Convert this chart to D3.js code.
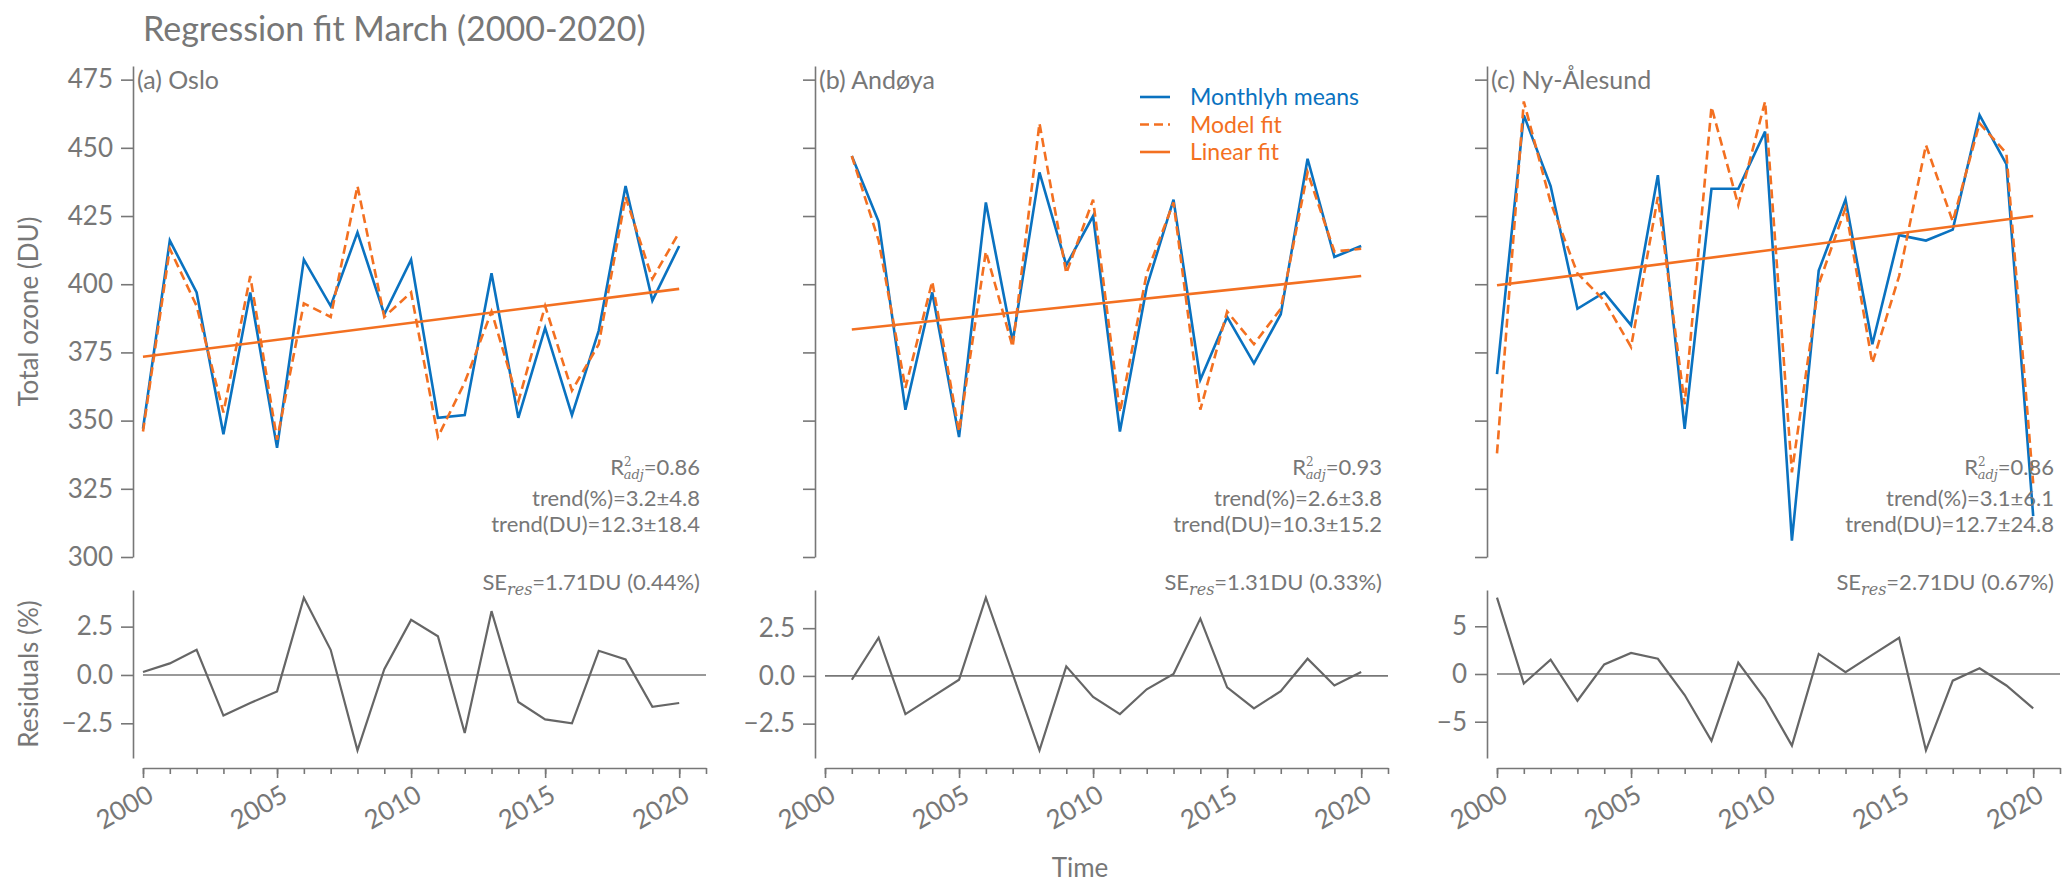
<!DOCTYPE html>
<meta charset="utf-8">
<script src="https://d3js.org/d3.v7.min.js"></script>
<style>
  body { margin: 0; background: #fff; }
  text { font-family: Lato, "Open Sans", sans-serif; }
</style>
<div id="chart"></div>
<script>

// ---- data ----
var yearsFull   = [2000, 2001, 2002, 2003, 2004, 2005, 2006, 2007, 2008, 2009, 2010,
                   2011, 2012, 2013, 2014, 2015, 2016, 2017, 2018, 2019, 2020];
var yearsAndoya = [2001, 2002, 2003, 2004, 2005, 2006, 2007, 2008, 2009, 2010,
                   2011, 2012, 2013, 2014, 2015, 2016, 2017, 2018, 2019, 2020];

var osloObs   = [347, 416, 397, 345, 397, 340, 409, 392, 419, 389, 409, 351, 352, 404, 351, 384, 352, 383, 436, 394, 414];
var osloModel = [346, 413, 392, 353, 403, 343, 393, 388, 436, 388, 397, 344, 364, 390, 357, 392, 361, 378, 432, 402, 419];
var osloLin   = [373.4, 398.3];
var osloRes   = [0.15, 0.6, 1.3, -2.1, -1.45, -0.85, 4.0, 1.3, -3.9, 0.3, 2.85, 2.0, -3.0, 3.3, -1.4, -2.3, -2.5, 1.25, 0.8, -1.65, -1.45];

var andObs   = [447, 423, 354, 397, 344, 430, 379, 441, 407, 425, 346, 399, 431, 365, 388, 371, 389, 446, 410, 414];
var andModel = [447, 416, 362, 401, 346, 412, 377, 459, 404, 431, 353, 404, 430, 354, 390, 378, 391, 441, 412, 413];
var andLin   = [383.4, 403];
var andRes   = [-0.2, 2.0, -2.0, -1.1, -0.2, 4.1, 0.1, -3.9, 0.5, -1.1, -2.0, -0.7, 0.1, 3.0, -0.6, -1.7, -0.8, 0.9, -0.5, 0.2];

var nyObs   = [367, 462, 436, 391, 397, 385, 440, 347, 435, 435, 456, 306, 405, 431, 378, 418, 416, 420, 462, 444, 315];
var nyModel = [338, 467, 430, 404, 394, 377, 432, 356, 465, 429, 467, 331, 400, 428, 371, 403, 451, 423, 459, 448, 327];
var nyLin   = [399.6, 425];
var nyRes   = [8.0, -1.0, 1.5, -2.8, 1.0, 2.2, 1.6, -2.2, -7.0, 1.2, -2.6, -7.5, 2.1, 0.2, 2.0, 3.8, -8.0, -0.7, 0.6, -1.2, -3.6];

var panelNames = ["(a) Oslo", "(b) Andøya", "(c) Ny-Ålesund"];
var r2Labels   = ["0.86", "0.93", "0.86"];
var trendPct   = ["3.2±4.8", "2.6±3.8", "3.1±6.1"];
var trendDU    = ["12.3±18.4", "10.3±15.2", "12.7±24.8"];
var seLabels   = ["1.71DU (0.44%)", "1.31DU (0.33%)", "2.71DU (0.67%)"];

var ozoneTicks = [300, 325, 350, 375, 400, 425, 450, 475];
var resTicks   = [[-2.5, 0, 2.5], [-2.5, 0, 2.5], [-5, 0, 5]];
var yearTicks  = [2000, 2005, 2010, 2015, 2020];
var legendLabels = ["Monthlyh means", "Model fit", "Linear fit"];

// ---- layout ----
var W = 2067, H = 889;
var blue = "#0a72c0", orange = "#f37021", grey = "#777777", resGrey = "#666666";
var spineX = [133, 815, 1487];
var plotW = 563;
var topY = [66, 557];
var resY = [590, 758];
var annSize = 22;

var panels = [
  { years: yearsFull,   obs: osloObs, model: osloModel, lin: osloLin, res: osloRes },
  { years: yearsAndoya, obs: andObs,  model: andModel,  lin: andLin,  res: andRes },
  { years: yearsFull,   obs: nyObs,   model: nyModel,   lin: nyLin,   res: nyRes }
];

var svg = d3.select("#chart").append("svg")
    .attr("width", W).attr("height", H);

svg.append("text")
    .attr("x", 143).attr("y", 41)
    .attr("fill", grey).attr("font-size", 34)
    .text("Regression fit March (2000-2020)");

panels.forEach(function (p, i) {
    var left = spineX[i] + 10;
    var x = d3.scaleLinear().domain([2000, 2021]).range([left, left + plotW]);
    var y = d3.scaleLinear().domain([300, 480]).range([topY[1], topY[0]]);

    var ext = d3.extent(p.res), pad = (ext[1] - ext[0]) * 0.05;
    var yr = d3.scaleLinear().domain([ext[0] - pad, ext[1] + pad]).range([resY[1], resY[0]]);

    // top y axis
    var ay = svg.append("g")
        .attr("transform", "translate(" + spineX[i] + ",0)")
        .call(d3.axisLeft(y).tickValues(ozoneTicks).tickSize(12).tickSizeOuter(0).tickPadding(8)
            .tickFormat(i == 0 ? d3.format("d") : function () { return ""; }));
    styleAxis(ay);

    // residual y axis
    var ar = svg.append("g")
        .attr("transform", "translate(" + spineX[i] + ",0)")
        .call(d3.axisLeft(yr).tickValues(resTicks[i]).tickSize(12).tickSizeOuter(0).tickPadding(8)
            .tickFormat(i == 2 ? d3.format("d") : d3.format(".1f")));
    styleAxis(ar);

    // bottom axis: minor + major ticks
    var bottom = resY[1] + 10;
    var minor = svg.append("g")
        .attr("transform", "translate(0," + bottom + ")")
        .call(d3.axisBottom(x).tickValues(d3.range(2000, 2022)).tickSize(6).tickSizeOuter(0).tickFormat(""));
    styleAxis(minor);
    var major = svg.append("g")
        .attr("transform", "translate(0," + bottom + ")")
        .call(d3.axisBottom(x).tickValues(yearTicks).tickSize(10).tickSizeOuter(0).tickFormat(d3.format("d")));
    styleAxis(major);
    major.select(".domain").remove();
    major.selectAll(".tick text")
        .attr("text-anchor", "end")
        .attr("y", 0).attr("dy", "0.75em")
        .attr("transform", "translate(2,15) rotate(-30)");

    // panel label
    svg.append("text")
        .attr("x", spineX[i] + 4).attr("y", 89)
        .attr("fill", grey).attr("font-size", 25)
        .text(panelNames[i]);

    // lines
    var line = d3.line()
        .x(function (d) { return x(d[0]); })
        .y(function (d) { return y(d[1]); });

    svg.append("path")
        .datum(d3.zip(p.years, p.obs))
        .attr("fill", "none").attr("stroke", blue).attr("stroke-width", 2.6)
        .attr("d", line);
    svg.append("path")
        .datum(d3.zip(p.years, p.model))
        .attr("fill", "none").attr("stroke", orange).attr("stroke-width", 2.6)
        .attr("stroke-dasharray", "9,5")
        .attr("d", line);
    svg.append("path")
        .datum([[p.years[0], p.lin[0]], [p.years[p.years.length - 1], p.lin[1]]])
        .attr("fill", "none").attr("stroke", orange).attr("stroke-width", 2.6)
        .attr("d", line);

    // residuals
    svg.append("line")
        .attr("x1", x(2000)).attr("x2", x(2021))
        .attr("y1", yr(0)).attr("y2", yr(0))
        .attr("stroke", grey).attr("stroke-width", 1.6);
    svg.append("path")
        .datum(d3.zip(p.years, p.res))
        .attr("fill", "none").attr("stroke", resGrey).attr("stroke-width", 2.2)
        .attr("d", d3.line()
            .x(function (d) { return x(d[0]); })
            .y(function (d) { return yr(d[1]); }));

    // annotations
    var tx = left + plotW - 6;
    var r = svg.append("text")
        .attr("x", tx).attr("y", 475)
        .attr("text-anchor", "end").attr("fill", grey).attr("font-size", annSize);
    r.append("tspan").text("R");
    r.append("tspan").attr("dy", -9).attr("font-size", 12).attr("font-family", "DejaVu Serif").text("2");
    r.append("tspan").attr("dx", -8).attr("dy", 13).attr("font-size", 13)
        .attr("font-style", "italic").attr("font-family", "DejaVu Serif").text("adj");
    r.append("tspan").attr("dy", -4).text("=" + r2Labels[i]);

    svg.append("text")
        .attr("x", tx).attr("y", 506)
        .attr("text-anchor", "end").attr("fill", grey).attr("font-size", annSize)
        .text("trend(%)=" + trendPct[i]);
    svg.append("text")
        .attr("x", tx).attr("y", 532)
        .attr("text-anchor", "end").attr("fill", grey).attr("font-size", annSize)
        .text("trend(DU)=" + trendDU[i]);

    var se = svg.append("text")
        .attr("x", tx).attr("y", 590)
        .attr("text-anchor", "end").attr("fill", grey).attr("font-size", annSize);
    se.append("tspan").text("SE");
    se.append("tspan").attr("dy", 5).attr("font-size", 16)
        .attr("font-style", "italic").attr("font-family", "DejaVu Serif").text("res");
    se.append("tspan").attr("dy", -5).text("=" + seLabels[i]);
});

function styleAxis(g) {
    g.selectAll(".domain").attr("stroke", grey).attr("stroke-width", 1.6);
    g.selectAll(".tick line").attr("stroke", grey).attr("stroke-width", 1.6);
    g.selectAll(".tick text").attr("fill", grey).attr("font-size", 26)
        .attr("font-family", "Lato, sans-serif");
}

// legend in panel b
var legendColors = [blue, orange, orange];
var legendDash = [null, "9,5", null];
legendLabels.forEach(function (lab, k) {
    var ly = 97 + k * 27.5;
    svg.append("line")
        .attr("x1", 1140).attr("x2", 1170).attr("y1", ly).attr("y2", ly)
        .attr("stroke", legendColors[k]).attr("stroke-width", 2.6)
        .attr("stroke-dasharray", legendDash[k]);
    svg.append("text")
        .attr("x", 1190).attr("y", ly + 8)
        .attr("fill", legendColors[k]).attr("font-size", 23)
        .text(lab);
});

// axis titles
svg.append("text")
    .attr("transform", "translate(38," + (topY[0] + topY[1]) / 2 + ") rotate(-90)")
    .attr("text-anchor", "middle").attr("fill", grey).attr("font-size", 26)
    .text("Total ozone (DU)");
svg.append("text")
    .attr("transform", "translate(38," + (resY[0] + resY[1]) / 2 + ") rotate(-90)")
    .attr("text-anchor", "middle").attr("fill", grey).attr("font-size", 26)
    .text("Residuals (%)");
svg.append("text")
    .attr("x", 1080).attr("y", 877)
    .attr("text-anchor", "middle").attr("fill", grey).attr("font-size", 26)
    .text("Time");

</script>
